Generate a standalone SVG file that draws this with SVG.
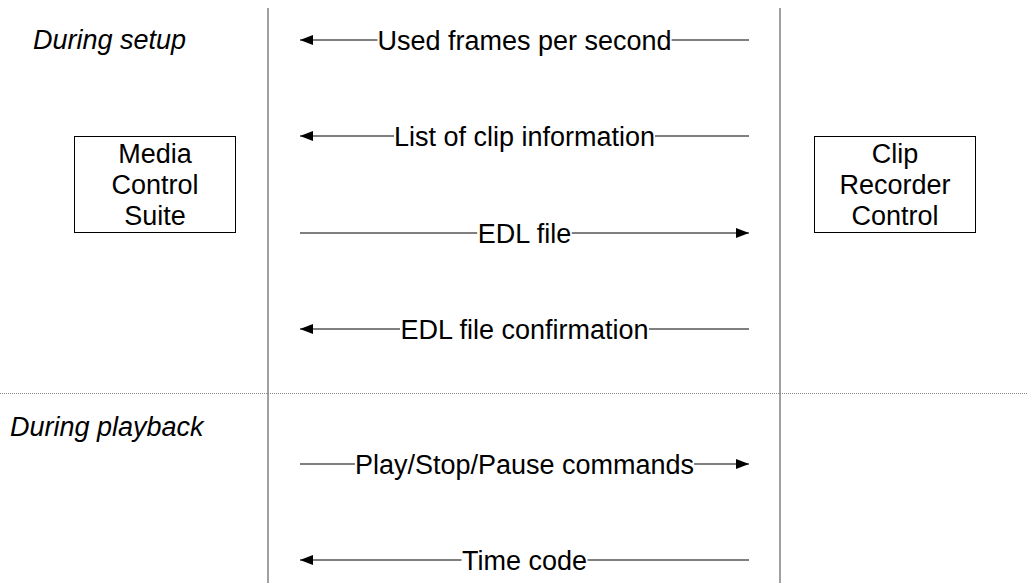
<svg xmlns="http://www.w3.org/2000/svg" width="1027" height="583" viewBox="0 0 1027 583">
  <style>
    text { font-family: "Liberation Sans", Arial, sans-serif; font-size: 27px; fill: #000; }
    .lbl { text-anchor: middle; }
    .phase { font-style: italic; }
    .lane { stroke: #808080; stroke-width: 1.5; fill: none; }
    .sep { stroke: #888; stroke-width: 1; stroke-dasharray: 1 1; fill: none; }
    .box { fill: #fff; stroke: #000; stroke-width: 1; }
    .msg { stroke: #000; stroke-width: 1.1; fill: none; }
    .msg-arrow { stroke: #000; stroke-width: 1.1; fill: none; marker-end: url(#head); }
  </style>
  <defs>
    <marker id="head" markerUnits="userSpaceOnUse" viewBox="0 0 13 10" refX="13" refY="5" markerWidth="13" markerHeight="10" orient="auto">
      <path d="M0,0 L13,5 L0,10 z" fill="#000"/>
    </marker>
  </defs>
  <rect width="1027" height="583" fill="#fff"/>

  <!-- swimlane boundaries and phase separator -->
  <g id="lanes">
    <line class="lane" x1="268" y1="8" x2="268" y2="583"/>
    <line class="lane" x1="780" y1="8" x2="780" y2="583"/>
    <line class="sep" x1="0" y1="393.5" x2="1027" y2="393.5"/>
  </g>

  <!-- phase labels -->
  <g id="phases">
    <text class="phase" x="33" y="49">During setup</text>
    <text class="phase" x="10" y="436">During playback</text>
  </g>

  <!-- endpoints -->
  <g id="media-control-suite">
    <rect class="box" x="74.5" y="136.5" width="161" height="96"/>
    <text class="lbl" x="155" y="163">Media</text>
    <text class="lbl" x="155" y="194">Control</text>
    <text class="lbl" x="155" y="225">Suite</text>
  </g>
  <g id="clip-recorder-control">
    <rect class="box" x="814.5" y="136.5" width="161" height="96"/>
    <text class="lbl" x="895" y="163">Clip</text>
    <text class="lbl" x="895" y="194">Recorder</text>
    <text class="lbl" x="895" y="225">Control</text>
  </g>

  <!-- messages: each line is split around its centred label -->
  <g id="connectors">
    <line class="msg-arrow" x1="377.4" y1="40" x2="300" y2="40"/>
    <line class="msg" x1="671.6" y1="40" x2="749" y2="40"/>

    <line class="msg-arrow" x1="394" y1="136" x2="300" y2="136"/>
    <line class="msg" x1="655" y1="136" x2="749" y2="136"/>

    <line class="msg" x1="300" y1="233" x2="477.2" y2="233"/>
    <line class="msg-arrow" x1="571.8" y1="233" x2="749" y2="233"/>

    <line class="msg-arrow" x1="400" y1="329" x2="300" y2="329"/>
    <line class="msg" x1="649" y1="329" x2="749" y2="329"/>

    <line class="msg" x1="300" y1="464" x2="354.9" y2="464"/>
    <line class="msg-arrow" x1="694.1" y1="464" x2="749" y2="464"/>

    <line class="msg-arrow" x1="461.5" y1="560" x2="300" y2="560"/>
    <line class="msg" x1="587.5" y1="560" x2="749" y2="560"/>
  </g>

  <g id="message-labels">
    <text class="lbl" x="524.5" y="49.5">Used frames per second</text>
    <text class="lbl" x="524.5" y="145.5">List of clip information</text>
    <text class="lbl" x="524.5" y="242.5">EDL file</text>
    <text class="lbl" x="524.5" y="338.5">EDL file confirmation</text>
    <text class="lbl" x="524.5" y="473.5">Play/Stop/Pause commands</text>
    <text class="lbl" x="524.5" y="569.5">Time code</text>
  </g>
</svg>
